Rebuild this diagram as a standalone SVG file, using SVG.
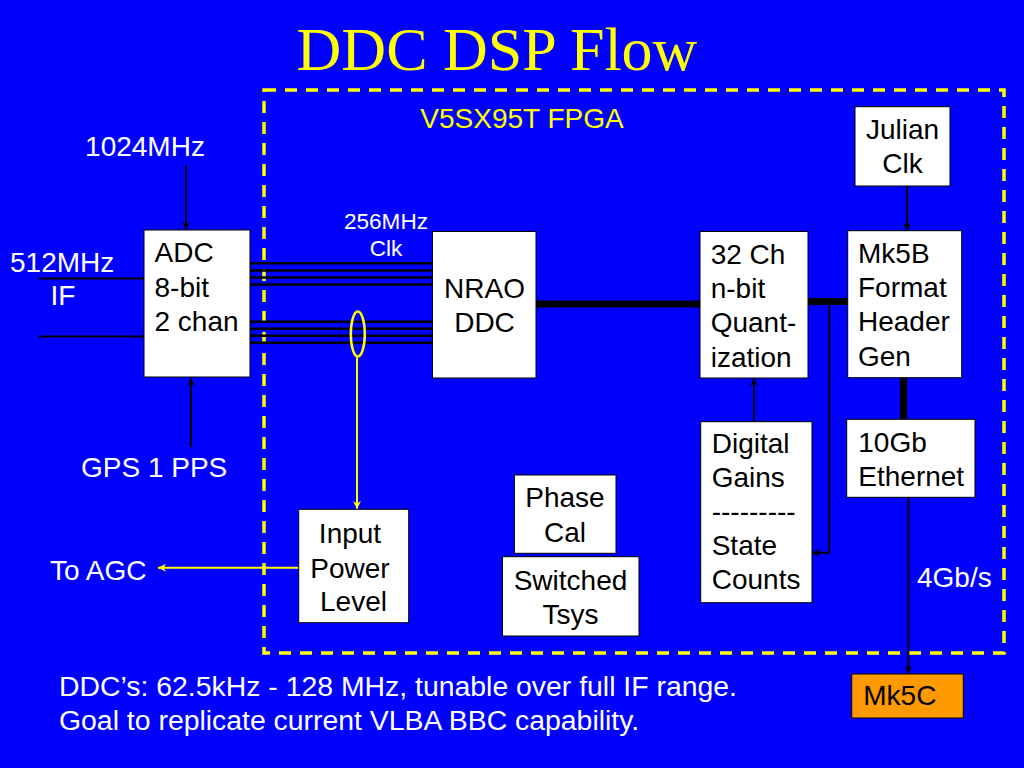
<svg xmlns="http://www.w3.org/2000/svg" width="1024" height="768" viewBox="0 0 1024 768">
<defs>
<style>
.bx{fill:#fff;stroke:#000;stroke-width:1}
.t{font-family:"Liberation Sans",Arial,sans-serif;font-size:28px;fill:#000}
.w{font-family:"Liberation Sans",Arial,sans-serif;font-size:28px;fill:#fff}
.y{font-family:"Liberation Sans",Arial,sans-serif;font-size:28px;fill:#ffff00}
.c{text-anchor:middle}
.bl{stroke:#000;stroke-width:2;fill:none}
.bus{stroke:#000;stroke-width:2.5;fill:none}
.thick{stroke:#000;stroke-width:7;fill:none}
.yl{stroke:#ffff00;stroke-width:2;fill:none}
</style>
<marker id="ab" viewBox="0 0 10 10" refX="10" refY="5" markerWidth="9" markerHeight="8" markerUnits="userSpaceOnUse" orient="auto"><path d="M0,0 L10,5 L0,10 L3,5 z" fill="#000"/></marker>
<marker id="ay" viewBox="0 0 10 10" refX="10" refY="5" markerWidth="9" markerHeight="8" markerUnits="userSpaceOnUse" orient="auto"><path d="M0,0 L10,5 L0,10 L3,5 z" fill="#ffff00"/></marker>
</defs>
<rect x="0" y="0" width="1024" height="768" fill="#0000ff"/>
<text x="497" y="70" text-anchor="middle" font-family="'Liberation Serif','Times New Roman',serif" font-size="62" fill="#ffff00">DDC DSP Flow</text>
<rect id="fpga" x="264" y="90" width="740" height="563" fill="none" stroke="#ffff00" stroke-width="3.5" stroke-dasharray="12 9"/>
<text class="y c" x="522" y="128">V5SX95T FPGA</text>

<g id="labels">
<text class="w c" x="145" y="156">1024MHz</text>
<text class="w" x="10" y="272">512MHz</text>
<text class="w c" x="63" y="305">IF</text>
<text class="w" x="81" y="477">GPS 1 PPS</text>
<text class="w" x="50" y="580">To AGC</text>
<text class="w c" x="386" y="229" style="font-size:22.6px">256MHz</text>
<text class="w c" x="386" y="256" style="font-size:22.6px">Clk</text>
<text class="w" x="917" y="587">4Gb/s</text>
<text class="w" x="59" y="696" style="font-size:28.4px">DDC’s: 62.5kHz - 128 MHz, tunable over full IF range.</text>
<text class="w" x="59" y="730" style="font-size:28.4px">Goal to replicate current VLBA BBC capability.</text>
</g>

<g id="connectors">
<line class="bl" x1="186" y1="165" x2="186" y2="230" marker-end="url(#ab)"/>
<line class="bl" x1="191" y1="447" x2="191" y2="378" marker-end="url(#ab)"/>
<line class="bl" x1="39" y1="278.5" x2="144" y2="278.5"/>
<line class="bl" x1="39" y1="336.5" x2="144" y2="336.5"/>
<line class="bus" x1="250" y1="263.3" x2="432" y2="263.3"/>
<line class="bus" x1="250" y1="270.5" x2="432" y2="270.5"/>
<line class="bus" x1="250" y1="277.5" x2="432" y2="277.5"/>
<line class="bus" x1="250" y1="284.5" x2="432" y2="284.5"/>
<line class="bus" x1="250" y1="321.7" x2="432" y2="321.7"/>
<line class="bus" x1="250" y1="328.7" x2="432" y2="328.7"/>
<line class="bus" x1="250" y1="335.7" x2="432" y2="335.7"/>
<line class="bus" x1="250" y1="342.7" x2="432" y2="342.7"/>
<ellipse cx="357.8" cy="334" rx="7" ry="22.5" fill="none" stroke="#ffff00" stroke-width="2.5"/>
<line class="yl" x1="357" y1="356.5" x2="357" y2="509" marker-end="url(#ay)"/>
<line class="yl" x1="299" y1="567.7" x2="158" y2="567.7" marker-end="url(#ay)"/>
<line class="thick" x1="536" y1="304" x2="700" y2="304"/>
<line class="thick" x1="808" y1="301.5" x2="848" y2="301.5"/>
<polyline class="bl" points="829.3,302 829.3,552.7 812,552.7" marker-end="url(#ab)"/>
<line class="bl" x1="754" y1="421.5" x2="754" y2="378" marker-end="url(#ab)"/>
<line class="bl" x1="907" y1="186" x2="907" y2="231" marker-end="url(#ab)"/>
<line class="thick" x1="903.5" y1="377" x2="903.5" y2="420"/>
<line class="bl" x1="908.3" y1="497" x2="908.3" y2="674" marker-end="url(#ab)"/>
</g>

<g id="adc">
<rect class="bx" x="144" y="230" width="106" height="147"/>
<text class="t" x="154.5" y="262">ADC</text>
<text class="t" x="154.5" y="296.5">8-bit</text>
<text class="t" x="154.5" y="331">2 chan</text>
</g>
<g id="nrao">
<rect class="bx" x="432.5" y="231.5" width="103.5" height="146.5"/>
<text class="t c" x="484.5" y="298.3">NRAO</text>
<text class="t c" x="484.5" y="332">DDC</text>
</g>
<g id="quant">
<rect class="bx" x="700" y="231.5" width="108" height="146.5"/>
<text class="t" x="710.7" y="263.5">32 Ch</text>
<text class="t" x="710.7" y="297.7">n-bit</text>
<text class="t" x="710.7" y="332">Quant-</text>
<text class="t" x="710.7" y="366.5">ization</text>
</g>
<g id="julian">
<rect class="bx" x="855" y="106.7" width="95" height="79.3"/>
<text class="t c" x="902.5" y="139.3">Julian</text>
<text class="t c" x="902.5" y="172.7">Clk</text>
</g>
<g id="mk5b">
<rect class="bx" x="847.7" y="230.7" width="114" height="147"/>
<text class="t" x="858" y="262.7">Mk5B</text>
<text class="t" x="858" y="297">Format</text>
<text class="t" x="858" y="331.3">Header</text>
<text class="t" x="858" y="365.5">Gen</text>
</g>
<g id="ethernet">
<rect class="bx" x="846.7" y="419.3" width="128.3" height="78"/>
<text class="t" x="858.3" y="451.7">10Gb</text>
<text class="t" x="858.3" y="486">Ethernet</text>
</g>
<g id="gains">
<rect class="bx" x="700.7" y="421.7" width="111.3" height="181"/>
<text class="t" x="711.7" y="453.3">Digital</text>
<text class="t" x="711.7" y="486.5">Gains</text>
<text class="t" x="711.7" y="521">---------</text>
<text class="t" x="711.7" y="555">State</text>
<text class="t" x="711.7" y="589.3">Counts</text>
</g>
<g id="phasecal">
<rect class="bx" x="514.4" y="475" width="101.6" height="78.3"/>
<text class="t c" x="565" y="507.3">Phase</text>
<text class="t c" x="565" y="541.7">Cal</text>
</g>
<g id="tsys">
<rect class="bx" x="502.5" y="556.7" width="136.5" height="79.3"/>
<text class="t c" x="570.5" y="590">Switched</text>
<text class="t c" x="570.5" y="624">Tsys</text>
</g>
<g id="inputpower">
<rect class="bx" x="298.7" y="509.3" width="110" height="113.4"/>
<text class="t c" x="350" y="543.3">Input</text>
<text class="t c" x="350" y="577.5">Power</text>
<text class="t c" x="353.5" y="611">Level</text>
</g>
<g id="mk5c">
<rect x="851.7" y="674" width="111.6" height="44" fill="#ff9900" stroke="#000" stroke-width="1"/>
<text class="t" x="863.3" y="705">Mk5C</text>
</g>
</svg>
